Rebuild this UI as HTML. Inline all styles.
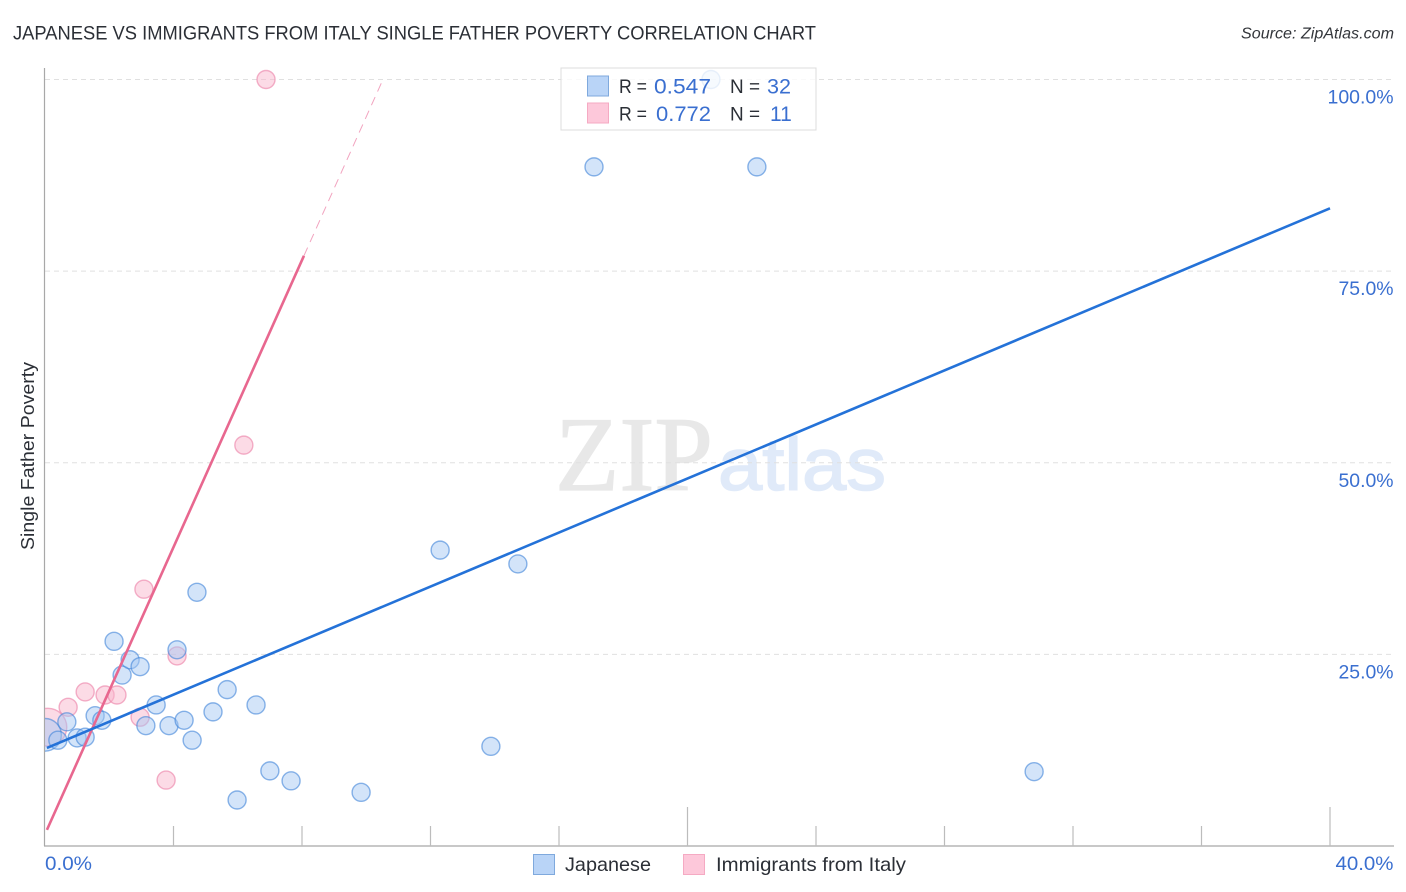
<!DOCTYPE html>
<html lang="en">
<head>
<meta charset="utf-8">
<title>Japanese vs Immigrants from Italy Single Father Poverty Correlation Chart</title>
<style>
html,body{margin:0;padding:0;background:#fff;width:1406px;height:892px;overflow:hidden}
svg{display:block;font-family:"Liberation Sans",sans-serif}
</style>
</head>
<body>
<svg id="chart" xmlns="http://www.w3.org/2000/svg" width="1406" height="892" viewBox="0 0 1406 892">
  <defs>
    <clipPath id="plot-clip"><rect x="45" y="60" width="1349" height="786"/></clipPath>
  </defs>
  <text x="13" y="39.5" font-size="19.5" fill="#2b2f36" textLength="803" lengthAdjust="spacingAndGlyphs">JAPANESE VS IMMIGRANTS FROM ITALY SINGLE FATHER POVERTY CORRELATION CHART</text>
  <text x="1394" y="38.5" font-size="15.5" font-style="italic" fill="#33363b" text-anchor="end" textLength="153" lengthAdjust="spacingAndGlyphs">Source: ZipAtlas.com</text>

  <g>
    <text x="555" y="490" font-family="'Liberation Serif',serif" font-size="106" fill="#e8e8e8" stroke="#e8e8e8" stroke-width="1.2" textLength="158" lengthAdjust="spacingAndGlyphs">ZIP</text>
    <text x="718" y="490" font-family="'Liberation Sans',sans-serif" font-size="74" fill="#e0eaf9" stroke="#e0eaf9" stroke-width="1.5" textLength="168" lengthAdjust="spacingAndGlyphs">atlas</text>
  </g>

  <g id="grid"></g>
  <g id="axes"></g>
  <g id="pink-points" clip-path="url(#plot-clip)"></g>
  <g id="blue-points" clip-path="url(#plot-clip)"></g>
  <g id="trends"></g>
  <g id="tick-labels"></g>

  <text transform="translate(34 550) rotate(-90)" font-size="18.5" fill="#2b2f36" textLength="188" lengthAdjust="spacingAndGlyphs">Single Father Poverty</text>

  <g>
    <rect x="561" y="68" width="255" height="62" fill="#fff" fill-opacity="0.8" stroke="#dcdcdc" stroke-width="1"/>
    <rect x="587.5" y="76" width="21" height="20" fill="#b9d4f7" stroke="#7fa9dd" stroke-width="1"/>
    <rect x="587.5" y="103" width="21" height="20" fill="#fdc8da" stroke="#f5aac3" stroke-width="1"/>
    <g font-size="19.5" fill="#2b2f36">
      <text x="619" y="93" textLength="28" lengthAdjust="spacingAndGlyphs">R =</text>
      <text x="730" y="93" textLength="30" lengthAdjust="spacingAndGlyphs">N =</text>
      <text x="619" y="120.5" textLength="28" lengthAdjust="spacingAndGlyphs">R =</text>
      <text x="730" y="120.5" textLength="30" lengthAdjust="spacingAndGlyphs">N =</text>
    </g>
    <g font-size="21" fill="#3a6fd0">
      <text x="654" y="93.5" textLength="57" lengthAdjust="spacingAndGlyphs">0.547</text>
      <text x="767" y="93.5" textLength="24" lengthAdjust="spacingAndGlyphs">32</text>
      <text x="656" y="121" textLength="55" lengthAdjust="spacingAndGlyphs">0.772</text>
      <text x="770" y="121" font-size="21">11</text>
    </g>
  </g>

  <g>
    <rect x="533.5" y="854.5" width="21" height="20" fill="#b9d4f7" stroke="#7fa9dd" stroke-width="1"/>
    <text x="565" y="871" font-size="19.5" fill="#2b2f36" textLength="86" lengthAdjust="spacingAndGlyphs">Japanese</text>
    <rect x="683.5" y="854.5" width="21" height="20" fill="#fdc8da" stroke="#f5aac3" stroke-width="1"/>
    <text x="716" y="871" font-size="19.5" fill="#2b2f36" textLength="190" lengthAdjust="spacingAndGlyphs">Immigrants from Italy</text>
  </g>
</svg>

<script>
var yTickValues = [25, 50, 75, 100];
var yTickLabels = ["25.0%", "50.0%", "75.0%", "100.0%"];
var xTickValues = [0, 4, 8, 12, 16, 20, 24, 28, 32, 36, 40];
var xMajorTicks = [20, 40];
var xEndLabels = ["0.0%", "40.0%"];

var japaneseX = [0, 0.40, 0.68, 1.00, 1.25, 1.56, 1.77, 2.15, 2.40, 2.65, 2.96, 3.14, 3.46, 3.86, 4.11, 4.33, 4.58, 4.73, 5.23, 5.67, 5.98, 6.57, 7.00, 7.66, 9.84, 12.30, 13.88, 14.72, 17.09, 22.16, 20.73, 30.79];
var japaneseY = [14.5, 13.8, 16.2, 14.1, 14.2, 17.0, 16.4, 26.7, 22.3, 24.3, 23.4, 15.7, 18.4, 15.7, 25.6, 16.4, 13.8, 33.1, 17.5, 20.4, 6.0, 18.4, 9.8, 8.5, 7.0, 38.6, 13.0, 36.8, 88.6, 88.6, 100, 9.7];
var japaneseWeight = [3.3, 1, 1, 1, 1, 1, 1, 1, 1, 1, 1, 1, 1, 1, 1, 1, 1, 1, 1, 1, 1, 1, 1, 1, 1, 1, 1, 1, 1, 1, 1, 1];

var italyX = [0.09, 0.72, 1.25, 1.87, 2.24, 2.96, 3.08, 3.77, 4.11, 6.19, 6.88];
var italyY = [15.5, 18.1, 20.1, 19.7, 19.7, 16.8, 33.5, 8.6, 24.8, 52.3, 100];
var italyWeight = [4.4, 1, 1, 1, 1, 1, 1, 1, 1, 1, 1];

var japaneseTrendX = [0.06, 40];
var japaneseTrendY = [12.8, 83.2];
var italyTrendX = [0.06, 8.06];
var italyTrendY = [2.1, 77.0];
var italyDashX = [8.06, 10.52];
var italyDashY = [77.0, 100];

function xScale(v) { return 45 + v * 32.125; }
function yScale(v) { return 846 - v * 7.665; }
function rScale(w) { return 9 * Math.sqrt(w); }

var SVGNS = "http://www.w3.org/2000/svg";
function mk(tag, parent, attrs) {
  var el = document.createElementNS(SVGNS, tag);
  for (var k in attrs) { el.setAttribute(k, attrs[k]); }
  parent.appendChild(el);
  return el;
}

var gridG = document.getElementById("grid");
yTickValues.forEach(function (v) {
  var line = mk("line", gridG, { x1: 45, x2: 1394, y1: yScale(v), y2: yScale(v), stroke: "#e0e0e0", "stroke-width": 1, "stroke-dasharray": "5 4" });
  
  
});

var axesG = document.getElementById("axes");
var yAxis = mk("line", axesG, { x1: 44.5, x2: 44.5, y1: 68, y2: 846, stroke: "#a8a8a8", "stroke-width": 1.2 });


var xAxis = mk("line", axesG, { x1: 44, x2: 1394, y1: 846, y2: 846, stroke: "#a8a8a8", "stroke-width": 1.2 });


xTickValues.forEach(function (v) {
  if (v === 0) { return; }
  var top = xMajorTicks.indexOf(v) >= 0 ? 807 : 826;
  var tick = mk("line", axesG, { x1: xScale(v), x2: xScale(v), y1: top, y2: 846, stroke: "#bcbcbc", "stroke-width": 1.2 });
  
  
});

function drawPoints(groupId, xs, ys, ws, fill, stroke, strokeOpacity, pointName) {
  var g = document.getElementById(groupId);
  xs.forEach(function (x, i) {
    var c = mk("circle", g, {
      cx: xScale(x), cy: yScale(ys[i]), r: rScale(ws[i]),
      fill: fill, "fill-opacity": 0.48, stroke: stroke, "stroke-opacity": strokeOpacity, "stroke-width": 1.4
    });
    
    
  });
}
drawPoints("pink-points", italyX, italyY, italyWeight, "#f8b4cb", "#ee8fb0", 0.7, "italy-point");
drawPoints("blue-points", japaneseX, japaneseY, japaneseWeight, "#a3c6f2", "#3f83d8", 0.6, "japanese-point");

var trendsG = document.getElementById("trends");
var italyDash = mk("line", trendsG, { x1: xScale(italyDashX[0]), y1: yScale(italyDashY[0]), x2: xScale(italyDashX[1]), y2: yScale(italyDashY[1]), stroke: "#f2a3bf", "stroke-width": 1, "stroke-dasharray": "9 6" });


var italyTrend = mk("line", trendsG, { x1: xScale(italyTrendX[0]), y1: yScale(italyTrendY[0]), x2: xScale(italyTrendX[1]), y2: yScale(italyTrendY[1]), stroke: "#e8678f", "stroke-width": 2.6 });


var japaneseTrend = mk("line", trendsG, { x1: xScale(japaneseTrendX[0]), y1: yScale(japaneseTrendY[0]), x2: xScale(japaneseTrendX[1]), y2: yScale(japaneseTrendY[1]), stroke: "#2472d8", "stroke-width": 2.6 });



var labelsG = document.getElementById("tick-labels");
yTickValues.forEach(function (v, i) {
  var t = mk("text", labelsG, { x: 1393.5, y: yScale(v) + 24, "font-size": 19.5, fill: "#3a6fd0", "text-anchor": "end" });
  
  
  t.setAttribute('textLength', yTickLabels[i].length === 6 ? 66 : 55);
  t.setAttribute('lengthAdjust', 'spacingAndGlyphs');
  t.textContent = yTickLabels[i];
});
var xLabelLeft = mk("text", labelsG, { x: 45, y: 870, "font-size": 19.5, fill: "#3a6fd0", textLength: 47, lengthAdjust: "spacingAndGlyphs" });


xLabelLeft.textContent = xEndLabels[0];
var xLabelRight = mk("text", labelsG, { x: 1393.5, y: 870, "font-size": 19.5, fill: "#3a6fd0", "text-anchor": "end", textLength: 58, lengthAdjust: "spacingAndGlyphs" });


xLabelRight.textContent = xEndLabels[1];
</script>
</body>
</html>
